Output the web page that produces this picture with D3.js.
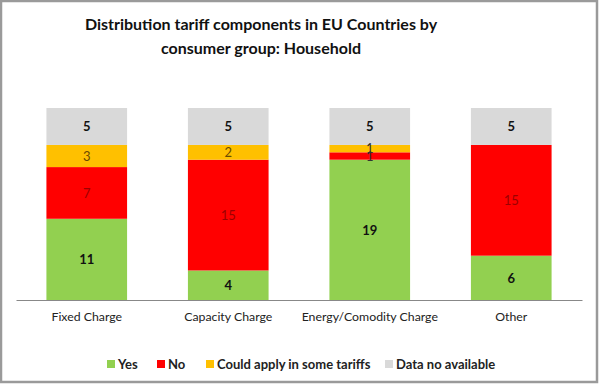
<!DOCTYPE html>
<html>
<head>
<meta charset="utf-8">
<script src="https://cdn.jsdelivr.net/npm/d3@7"></script>
<style>
  body { margin: 0; background: #fff; }
  svg { display: block; font-family: Lato, "Open Sans", sans-serif; }
</style>
</head>
<body>
<svg id="chart"></svg>
<script>
var categories = ["Fixed Charge", "Capacity Charge", "Energy/Comodity Charge", "Other"];
var seriesNames = ["Yes", "No", "Could apply in some tariffs", "Data no available"];
var yesValues = [11, 4, 19, 6];
var noValues = [7, 15, 1, 15];
var couldValues = [3, 2, 1, 0];
var naValues = [5, 5, 5, 5];

var colors = ["#92d050", "#ff0000", "#ffc000", "#d9d9d9"];
var labelColors = ["#111", "#9c0000", "#6b4a00", "#111"];
var labelWeights = ["bold", "normal", "normal", "bold"];

var rows = categories.map(function(c, i) {
  return { cat: c, "Yes": yesValues[i], "No": noValues[i],
           "Could apply in some tariffs": couldValues[i], "Data no available": naValues[i] };
});

var screen = { width: 600, height: 385 };
var svg = d3.select("#chart")
            .attr("width", screen.width)
            .attr("height", screen.height);

// frame
svg.append("rect")
   .attr("x", 1).attr("y", 1)
   .attr("width", 596).attr("height", 381)
   .attr("fill", "#fff")
   .attr("stroke", "#9a9a9a")
   .attr("stroke-width", 2.5);

// title
var title = svg.append("text")
               .attr("text-anchor", "middle")
               .attr("font-size", 16)
               .attr("font-weight", "bold")
               .attr("fill", "#111");
title.append("tspan").attr("x", 261).attr("y", 30).text("Distribution tariff components in EU Countries by");
title.append("tspan").attr("x", 261).attr("y", 54).text("consumer group: Household");

var margins = { left: 16, right: 18, top: 108, bottom: 85 };

var xScale = d3.scaleBand()
               .domain(categories)
               .range([margins.left, screen.width - margins.right])
               .paddingInner(0.43)
               .paddingOuter(0.215);

var yScale = d3.scaleLinear()
               .domain([0, 26])
               .range([300, margins.top]);

var stack = d3.stack().keys(seriesNames);
var stacked = stack(rows);

var layers = svg.append("g").selectAll("g")
                .data(stacked)
                .enter()
                .append("g")
                .attr("fill", function(d, i) { return colors[i]; });

layers.selectAll("rect")
      .data(function(d) { return d; })
      .enter()
      .append("rect")
      .filter(function(d) { return d[1] - d[0] > 0; })
      .attr("x", function(d) { return xScale(d.data.cat); })
      .attr("y", function(d) { return yScale(d[1]); })
      .attr("width", xScale.bandwidth())
      .attr("height", function(d) { return yScale(d[0]) - yScale(d[1]); });

// value labels
stacked.forEach(function(layer, li) {
  svg.append("g").selectAll("text")
     .data(layer.filter(function(d) { return d[1] - d[0] > 0; }))
     .enter()
     .append("text")
     .attr("x", function(d) { return xScale(d.data.cat) + xScale.bandwidth() / 2; })
     .attr("y", function(d) { return (yScale(d[0]) + yScale(d[1])) / 2; })
     .attr("dy", "0.36em")
     .attr("text-anchor", "middle")
     .attr("font-size", 13)
     .attr("font-weight", labelWeights[li])
     .attr("fill", function(d) { return (d[1] - d[0] === 1) ? "#333" : labelColors[li]; })
     .text(function(d) { return d[1] - d[0]; });
});

// x axis
var xAxis = d3.axisBottom(xScale).tickSize(0).tickPadding(12);
var axisG = svg.append("g")
               .attr("transform", "translate(0,300)")
               .call(xAxis);
axisG.select(".domain").attr("stroke", "#888").attr("stroke-width", 1);
axisG.selectAll("text")
     .attr("font-family", "Lato, sans-serif")
     .attr("font-size", 12.3)
     .attr("fill", "#222");

// legend
var legendX = [107, 157, 206, 385];
var legend = svg.append("g")
                .selectAll("g")
                .data(seriesNames)
                .enter()
                .append("g")
                .attr("transform", function(d, i) { return "translate(" + legendX[i] + ",364)"; });

legend.append("rect")
      .attr("x", 0).attr("y", -4)
      .attr("width", 8).attr("height", 8)
      .attr("fill", function(d, i) { return colors[i]; });

legend.append("text")
      .attr("x", 11).attr("y", 0)
      .attr("dy", "0.36em")
      .attr("font-size", 13)
      .attr("font-weight", "bold")
      .attr("fill", "#222")
      .text(function(d) { return d; });
</script>
</body>
</html>
